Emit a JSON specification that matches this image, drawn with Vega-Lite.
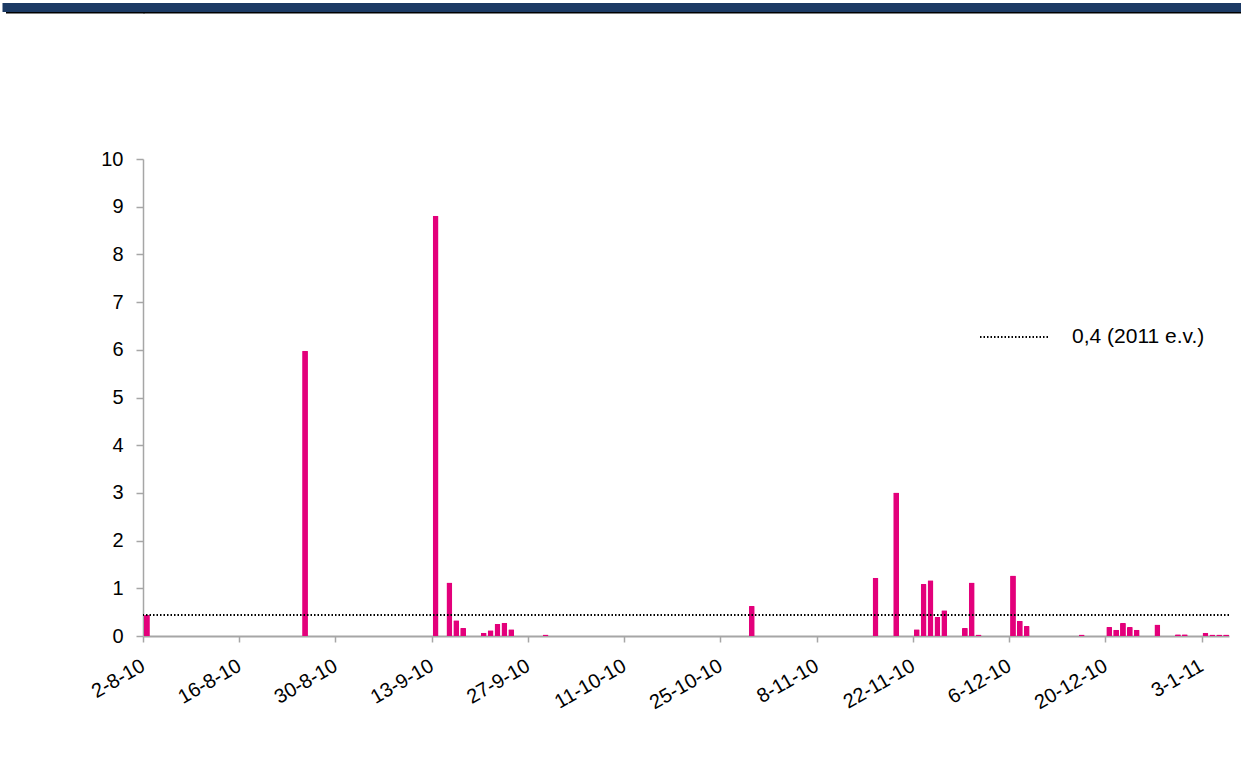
{
  "$schema": "https://vega.github.io/schema/vega-lite/v6.json",
  "padding": 0,
  "spacing": 135,
  "background": "white",
  "config": {"font": "Liberation Sans", "axis": {"labelFont": "Liberation Sans"}, "legend": {"labelFont": "Liberation Sans"}},
  "vconcat": [
    {
      "width": 1098,
      "height": 11,
      "view": {"stroke": null},
      "data": {"values": [{"t": "", "band": 6.5}]},
      "mark": {"type": "text"},
      "encoding": {
        "text": {"field": "t", "type": "nominal"},
        "y": {
          "field": "band",
          "type": "quantitative",
          "scale": {"domain": [0, 11], "nice": false},
          "axis": {
            "title": null,
            "values": [1, 6.5],
            "labels": false,
            "domain": false,
            "grid": true,
            "tickSize": 136.5,
            "tickCap": "square",
            "tickWidth": {"condition": {"test": "datum.value < 2", "value": 2}, "value": 9},
            "tickColor": {"condition": {"test": "datum.value < 2", "value": "#000000"}, "value": "#1c3a64"},
            "gridWidth": {"condition": {"test": "datum.value < 2", "value": 2}, "value": 9},
            "gridColor": {"condition": {"test": "datum.value < 2", "value": "#000000"}, "value": "#1c3a64"},
            "gridOpacity": 1,
            "minExtent": 141,
            "maxExtent": 141
          }
        }
      }
    },
    {
      "width": 1086,
      "height": 477,
      "view": {"stroke": null},
      "layer": [
        {
          "data": {
            "values": [
              {"date": "2010/08/02", "value": 0.44},
              {"date": "2010/08/25", "value": 5.98},
              {"date": "2010/09/13", "value": 8.81},
              {"date": "2010/09/15", "value": 1.12},
              {"date": "2010/09/16", "value": 0.33},
              {"date": "2010/09/17", "value": 0.17},
              {"date": "2010/09/20", "value": 0.07},
              {"date": "2010/09/21", "value": 0.12},
              {"date": "2010/09/22", "value": 0.25},
              {"date": "2010/09/23", "value": 0.28},
              {"date": "2010/09/24", "value": 0.14},
              {"date": "2010/09/29", "value": 0.03},
              {"date": "2010/10/29", "value": 0.63},
              {"date": "2010/11/16", "value": 1.22},
              {"date": "2010/11/19", "value": 3.01},
              {"date": "2010/11/22", "value": 0.14},
              {"date": "2010/11/23", "value": 1.09},
              {"date": "2010/11/24", "value": 1.17},
              {"date": "2010/11/25", "value": 0.40},
              {"date": "2010/11/26", "value": 0.54},
              {"date": "2010/11/29", "value": 0.17},
              {"date": "2010/11/30", "value": 1.12},
              {"date": "2010/12/01", "value": 0.03},
              {"date": "2010/12/06", "value": 1.27},
              {"date": "2010/12/07", "value": 0.32},
              {"date": "2010/12/08", "value": 0.21},
              {"date": "2010/12/16", "value": 0.03},
              {"date": "2010/12/20", "value": 0.19},
              {"date": "2010/12/21", "value": 0.13},
              {"date": "2010/12/22", "value": 0.27},
              {"date": "2010/12/23", "value": 0.19},
              {"date": "2010/12/24", "value": 0.13},
              {"date": "2010/12/27", "value": 0.24},
              {"date": "2010/12/30", "value": 0.035},
              {"date": "2010/12/31", "value": 0.035},
              {"date": "2011/01/03", "value": 0.07},
              {"date": "2011/01/04", "value": 0.03},
              {"date": "2011/01/05", "value": 0.03},
              {"date": "2011/01/06", "value": 0.03}
            ]
          },
          "mark": {"type": "bar", "color": "#e3007b", "timeUnitBandSize": 0.82, "cornerRadiusTopLeft": 1, "cornerRadiusTopRight": 1},
          "encoding": {
            "x": {
              "field": "date",
              "timeUnit": "yearmonthdate",
              "type": "temporal",
              "scale": {"domain": [{"year": 2010, "month": "aug", "date": 2}, {"year": 2011, "month": "jan", "date": 7}]},
              "axis": {
                "title": null,
                "values": [
                  {"year": 2010, "month": "aug", "date": 2},
                  {"year": 2010, "month": "aug", "date": 16},
                  {"year": 2010, "month": "aug", "date": 30},
                  {"year": 2010, "month": "sep", "date": 13},
                  {"year": 2010, "month": "sep", "date": 27},
                  {"year": 2010, "month": "oct", "date": 11},
                  {"year": 2010, "month": "oct", "date": 25},
                  {"year": 2010, "month": "nov", "date": 8},
                  {"year": 2010, "month": "nov", "date": 22},
                  {"year": 2010, "month": "dec", "date": 6},
                  {"year": 2010, "month": "dec", "date": 20},
                  {"year": 2011, "month": "jan", "date": 3}
                ],
                "format": "%-d-%-m-%y",
                "labelAngle": -30,
                "labelAlign": "right",
                "labelBaseline": "middle",
                "labelFontSize": 20,
                "labelColor": "#000000",
                "labelPadding": 22,
                "labelOverlap": false,
                "labelFlush": false,
                "tickSize": 6,
                "tickColor": "#a6a6a6",
                "tickWidth": 1.5,
                "domainColor": "#a6a6a6",
                "domainWidth": 2,
                "grid": false
              }
            },
            "y": {
              "field": "value",
              "type": "quantitative",
              "scale": {"domain": [0, 10], "nice": false},
              "axis": {
                "title": null,
                "values": [0, 1, 2, 3, 4, 5, 6, 7, 8, 9, 10],
                "format": "d",
                "labelFontSize": 20,
                "labelColor": "#000000",
                "labelPadding": 13,
                "tickSize": 7,
                "tickColor": "#a6a6a6",
                "tickWidth": 1.5,
                "domainColor": "#a6a6a6",
                "domainWidth": 1.5,
                "grid": false,
                "minExtent": 141,
                "maxExtent": 141
              }
            }
          }
        },
        {
          "data": {"values": [{"ref": 0.44, "label": "0,4 (2011 e.v.)"}]},
          "mark": {"type": "rule", "strokeDash": [1.5, 2], "strokeWidth": 1.8},
          "encoding": {
            "y": {"field": "ref", "type": "quantitative"},
            "color": {
              "field": "label",
              "type": "nominal",
              "scale": {"range": ["#000000"]},
              "legend": {
                "title": null,
                "orient": "none",
                "legendX": 836,
                "legendY": 299,
                "symbolType": "stroke",
                "symbolSize": 4900,
                "symbolStrokeWidth": 1.8,
                "symbolDash": [1.5, 2],
                "labelFontSize": 21,
                "labelOffset": 21,
                "labelColor": "#000000",
                "labelLimit": 400
              }
            }
          }
        }
      ]
    }
  ]
}
